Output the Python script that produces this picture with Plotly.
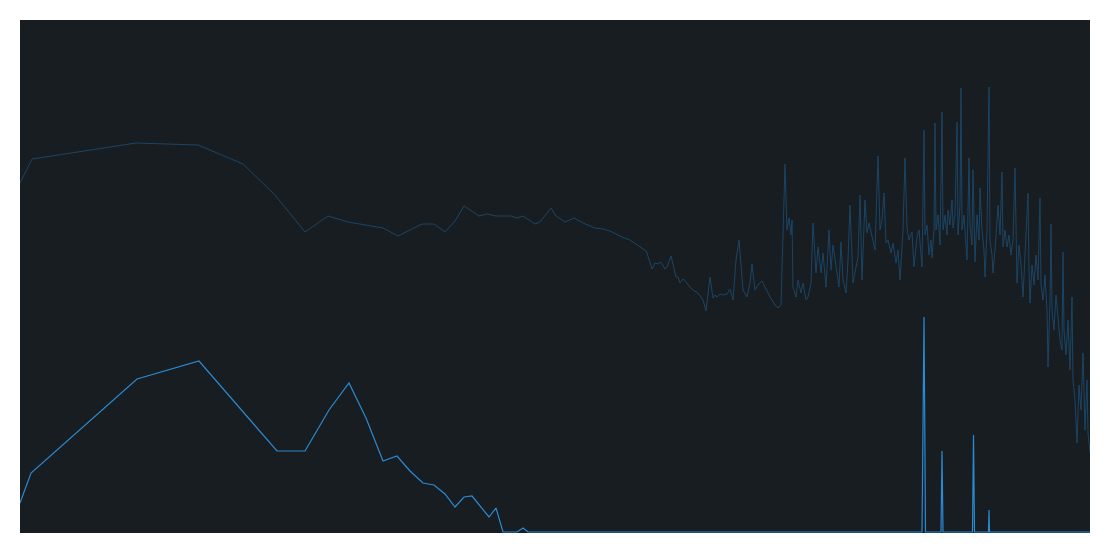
import plotly.graph_objects as go

# upper (dim) series: sample position vs level
upper_x = [0, 12, 116, 178, 223, 255, 285, 308, 328, 363, 378, 402, 414, 425, 435, 444, 453, 459, 467, 476,
           491, 497, 503, 515, 520, 531, 536, 545, 554, 563, 575, 583, 590, 602, 610, 626, 627, 632, 635, 638,
           641, 645, 647, 651, 656, 658, 660, 663, 667, 669, 673, 678, 683, 686, 690, 693, 695, 697, 700, 703,
           707, 710, 713, 716, 719, 723, 727, 730, 732, 735, 738, 742, 745, 750, 755, 758, 761, 765, 767, 769,
           771, 772, 773, 776, 778, 781, 783, 786, 788, 791, 793, 796, 798, 801, 803, 806, 809, 811, 813, 816,
           819, 821, 823, 826, 828, 830, 833, 836, 838, 840, 842, 845, 847, 849, 852, 855, 858, 860, 862, 864,
           866, 868, 871, 873, 876, 878, 880, 883, 885, 887, 889, 892, 894, 897, 899, 902, 904, 905, 907, 909,
           911, 912, 914, 915, 916, 918, 920, 922, 923, 925, 927, 928, 930, 932, 933, 935, 937, 938, 940, 941,
           942, 944, 946, 947, 949, 950, 952, 953, 955, 957, 959, 960, 962, 964, 965, 967, 969, 970, 972, 973,
           975, 977, 978, 980, 982, 983, 985, 987, 989, 991, 993, 995, 996, 997, 999, 1001, 1003, 1005, 1006, 1008,
           1009, 1010, 1012, 1014, 1016, 1018, 1020, 1021, 1023, 1025, 1027, 1028, 1030, 1031, 1032, 1034, 1036, 1038, 1040, 1042,
           1043, 1044, 1046, 1048, 1050, 1052, 1053, 1055, 1057, 1059, 1061, 1063, 1064, 1065, 1067, 1068, 1070]
upper_y = [349, 373, 389, 387, 368, 337, 300, 316, 310, 304, 296, 308, 308, 300, 311, 326, 320, 316, 318, 316,
           316, 314, 316, 308, 310, 324, 316, 310, 314, 309, 304, 303, 301, 295, 292, 281, 279, 263, 269, 268,
           270, 263, 265, 276, 255, 255, 249, 253, 249, 246, 242, 239, 232, 221, 255, 234, 237, 235, 238, 237,
           238, 243, 232, 272, 292, 242, 235, 249, 268, 242, 247, 251, 245, 235, 227, 224, 227, 368, 302, 314,
           297, 312, 245, 235, 252, 239, 249, 232, 235, 249, 309, 259, 285, 259, 279, 245, 302, 262, 287, 265,
           245, 290, 252, 239, 272, 327, 249, 265, 275, 337, 252, 332, 299, 309, 295, 282, 376, 302, 312, 339,
           289, 292, 279, 289, 269, 282, 252, 302, 374, 304, 292, 300, 265, 295, 302, 265, 402, 297, 307, 277,
           292, 274, 302, 409, 302, 317, 287, 420, 302, 317, 297, 322, 307, 332, 304, 317, 410, 297, 327, 444,
           302, 317, 287, 272, 374, 307, 287, 362, 270, 317, 292, 344, 302, 282, 255, 302, 445, 292, 277, 259,
           282, 307, 327, 297, 360, 285, 302, 285, 297, 277, 292, 364, 282, 249, 287, 267, 235, 277, 292, 339,
           262, 229, 267, 247, 277, 252, 334, 247, 232, 257, 222, 165, 232, 308, 222, 202, 237, 212, 192, 182,
           280, 202, 177, 212, 162, 235, 152, 132, 89, 147, 122, 179, 132, 102, 152, 99, 79]

# lower (bright) series
lower_x = [0, 11, 117, 179, 257, 285, 309, 329, 346, 363, 377, 390, 403, 414, 425, 435, 444, 452, 469, 476,
           483, 497, 503, 508, 902, 904, 905.5, 921, 922, 923, 952.5, 953.5, 954.5, 968.5, 969, 969.5, 1070]
lower_y = [29, 59, 153, 171, 81, 81, 122, 149, 114, 71, 76, 61, 49, 47, 38, 25, 35, 36, 15, 24,
           0, 0, 4, 0, 0, 215, 0, 0, 81, 0, 0, 97, 0, 0, 22, 0, 0]

fig = go.Figure()
fig.add_trace(go.Scatter(x=upper_x, y=upper_y, mode="lines",
                         line=dict(color="#1b4565", width=1), hoverinfo="skip"))
fig.add_trace(go.Scatter(x=lower_x, y=lower_y, mode="lines",
                         line=dict(color="#2b8ad0", width=1.2), hoverinfo="skip"))

# page body adds 8px, so figure is window minus 16
fig.update_layout(
    width=1094, height=538,
    margin=dict(l=12, r=12, t=12, b=13),
    paper_bgcolor="#ffffff",
    plot_bgcolor="#181d22",
    showlegend=False,
    xaxis=dict(range=[0, 1070], visible=False, showgrid=False, zeroline=False),
    yaxis=dict(range=[-1, 512], visible=False, showgrid=False, zeroline=False),
)

fig.write_html("out.html")
